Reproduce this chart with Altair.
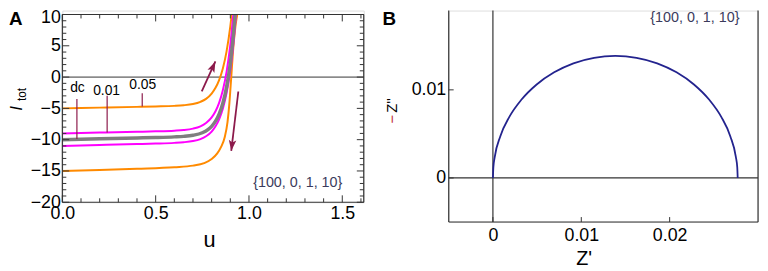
import altair as alt
import pandas as pd

FONT = "Liberation Sans"
ORANGE = "#ff8a00"
MAGENTA = "#ff00ff"
GRAY = "#7f7f7f"
WINE = "#8c1a4b"
NAVY = "#23238e"
INK = "#333333"

# ---------------- Panel A : I_tot vs u ----------------
u_dc = [0.0, 0.2, 0.4, 0.5, 0.6, 0.65, 0.7, 0.75, 0.78, 0.8, 0.82, 0.84, 0.86, 0.88, 0.9, 0.92, 0.9256]
i_dc = [-10.0, -9.86, -9.72, -9.65, -9.55, -9.47, -9.30, -8.90, -8.40, -7.87, -7.09, -5.92, -4.19, -1.60, 2.23, 7.95, 10.0]

u_or_hi = [0.0, 0.2, 0.4, 0.5, 0.6, 0.65, 0.7, 0.74, 0.77, 0.8, 0.82, 0.84, 0.86, 0.88, 0.9, 0.9074]
i_or_hi = [-5.0, -4.88, -4.76, -4.69, -4.60, -4.50, -4.30, -3.95, -3.48, -2.64, -1.76, -0.48, 1.39, 4.12, 8.10, 10.0]

u_mg_hi = [0.0, 0.2, 0.4, 0.5, 0.6, 0.65, 0.7, 0.74, 0.77, 0.8, 0.82, 0.84, 0.86, 0.88, 0.9, 0.9161]
i_mg_hi = [-9.0, -8.87, -8.74, -8.67, -8.56, -8.46, -8.24, -7.87, -7.35, -6.45, -5.50, -4.12, -2.10, 0.84, 5.14, 10.0]

u_mg_lo = [0.0, 0.2, 0.4, 0.5, 0.6, 0.65, 0.7, 0.74, 0.77, 0.8, 0.82, 0.84, 0.86, 0.88, 0.9, 0.92, 0.9306]
i_mg_lo = [-11.0, -10.85, -10.70, -10.62, -10.51, -10.41, -10.22, -9.90, -9.46, -8.70, -7.90, -6.74, -5.04, -2.57, 1.04, 6.30, 10.0]

u_or_lo = [0.0, 0.2, 0.4, 0.6, 0.7, 0.76, 0.8, 0.83, 0.85, 0.87, 0.885, 0.895, 0.905, 0.915, 0.927, 0.937]
i_or_lo = [-15.0, -14.85, -14.65, -14.4, -14.15, -13.75, -13.1, -12.2, -11.2, -9.6, -7.2, -4.2, 0.0, 4.3, 8.0, 10.0]

xa_labels = [0.0, 0.5, 1.0, 1.5]
xa_minor = [0.1, 0.2, 0.3, 0.4, 0.6, 0.7, 0.8, 0.9, 1.1, 1.2, 1.3, 1.4, 1.6]
ya_labels = [-20, -15, -10, -5, 0, 5, 10]
ya_minor = [-19, -18, -17, -16, -14, -13, -12, -11, -9, -8, -7, -6, -4, -3, -2, -1, 1, 2, 3, 4, 6, 7, 8, 9]

lab_text = ["dc", "0.01", "0.05"]
lab_u = [0.081, 0.237, 0.431]
lab_i = [-1.7, -2.2, -1.2]
lead_u = [0.078, 0.240, 0.428]
lead_i0 = [-3.5, -3.0, -2.6]
lead_i1 = [-9.9, -8.85, -4.7]

arr_u0 = [0.747, 0.943]
arr_i0 = [-2.3, -2.3]
arr_u1 = [0.820, 0.905]
arr_i1 = [2.5, -11.8]
arr_ang = [24, 187]

# ---------------- Panel B : Nyquist ----------------
z_re = [0.0, 0.0000527, 0.00021, 0.00084, 0.00186, 0.00324, 0.00495, 0.00693, 0.00911, 0.01145,
        0.01385, 0.01625, 0.01859, 0.02078, 0.02275, 0.02446, 0.02584, 0.02686, 0.02749, 0.02765, 0.0277]
z_im = [0.0, 0.00121, 0.00240, 0.00474, 0.00693, 0.00890, 0.01061, 0.01199, 0.01301, 0.01364,
        0.01385, 0.01364, 0.01301, 0.01199, 0.01061, 0.00890, 0.00693, 0.00474, 0.00240, 0.00121, 0.0]

xb_labels = [0.0, 0.01, 0.02]
yb_labels = [0.0, 0.01]

param_text = "{100, 0, 1, 10}"

# ---------------- scales & axes ----------------
WA, HA = 305, 194
WB, HB = 313, 214
xA = alt.Scale(domain=[0, 1.615], nice=False, zero=False)
yA = alt.Scale(domain=[-20, 10], range=[194, 4], nice=False, zero=False)
xB = alt.Scale(domain=[-0.005, 0.03], nice=False, zero=False)
yB = alt.Scale(domain=[-0.005, 0.019], nice=False, zero=False)

axAx = alt.Axis(values=xa_labels, format=".1f", labelPadding=2, title=None)
axAy = alt.Axis(values=ya_labels, format="d", labelPadding=2, title=None,
                labelOffset={"condition": {"test": "datum.value == 10", "value": 3}, "value": 0})
axBx = alt.Axis(values=xb_labels, format=".2~f", labelPadding=5, title=None)
axBy = alt.Axis(values=yb_labels, format=".2~f", labelPadding=3, title=None)


def XA(f):
    return alt.X(f, scale=xA, axis=axAx)


def YA(f):
    return alt.Y(f, scale=yA, axis=axAy)


def XB(f):
    return alt.X(f, scale=xB, axis=axBx)


def YB(f):
    return alt.Y(f, scale=yB, axis=axBy)


def txt(text, x, y, size, **kw):
    return alt.Chart(pd.DataFrame({"t": [text]})).mark_text(
        font=FONT, fontSize=size, **kw).encode(x=alt.value(x), y=alt.value(y), text="t:N")


def curve(us, vs, color, width):
    df = pd.DataFrame({"u": us, "I": vs, "k": list(range(len(us)))})
    return alt.Chart(df).mark_line(color=color, strokeWidth=width, interpolate="monotone", clip=True).encode(
        x=XA("u:Q"), y=YA("I:Q"), order="k:Q")


# ---- Panel A layers ----
zeroA = alt.Chart(pd.DataFrame({"u0": [0.0], "u1": [1.615], "I": [0.0]})).mark_rule(
    color=INK, strokeWidth=1).encode(x=XA("u0:Q"), x2="u1:Q", y=YA("I:Q"))

frameA = alt.Chart(pd.DataFrame({"a": [0, 0, 0, 1.615], "b": [1.615, 1.615, 0, 1.615],
                                 "c": [10, -20, -20, -20], "d": [10, -20, 10, 10]})).mark_rule(
    color=INK, strokeWidth=1.2).encode(x=XA("a:Q"), x2="b:Q", y=YA("c:Q"), y2="d:Q")


def yticks(vals, length):
    df = pd.DataFrame({"v": vals})
    left = alt.Chart(df).mark_rule(color=INK, strokeWidth=1).encode(
        x=alt.value(0), x2=alt.value(length), y=YA("v:Q"))
    right = alt.Chart(df).mark_rule(color=INK, strokeWidth=1).encode(
        x=alt.value(WA), x2=alt.value(WA - length), y=YA("v:Q"))
    return [left, right]


def xticks(vals, length):
    df = pd.DataFrame({"v": vals})
    bottom = alt.Chart(df).mark_rule(color=INK, strokeWidth=1).encode(
        y=alt.value(HA), y2=alt.value(HA - length), x=XA("v:Q"))
    top = alt.Chart(df).mark_rule(color=INK, strokeWidth=1).encode(
        y=alt.value(4), y2=alt.value(4 + length), x=XA("v:Q"))
    return [bottom, top]


leadA = alt.Chart(pd.DataFrame({"u": lead_u, "i0": lead_i0, "i1": lead_i1})).mark_rule(
    color=WINE, strokeWidth=1.2).encode(x=XA("u:Q"), y=YA("i0:Q"), y2="i1:Q")

labelsA = alt.Chart(pd.DataFrame({"u": lab_u, "I": lab_i, "t": lab_text})).mark_text(
    font=FONT, fontSize=14, color="black").encode(x=XA("u:Q"), y=YA("I:Q"), text="t:N")

arrows_df = pd.DataFrame({"u0": arr_u0, "i0": arr_i0, "u1": arr_u1, "i1": arr_i1, "ang": arr_ang})
shaftA = alt.Chart(arrows_df).mark_rule(color=WINE, strokeWidth=1.8).encode(
    x=XA("u0:Q"), y=YA("i0:Q"), x2="u1:Q", y2="i1:Q")
headA = alt.Chart(arrows_df).mark_point(
    shape="M0,0 L0.55,1.6 L0,1.25 L-0.55,1.6 Z", filled=True, size=190, color=WINE, opacity=1,
    strokeWidth=0).encode(x=XA("u1:Q"), y=YA("i1:Q"), angle=alt.Angle("ang:Q", scale=None))

paramA = alt.Chart(pd.DataFrame({"u": [1.5], "I": [-17.0], "t": [param_text]})).mark_text(
    font=FONT, fontSize=14.5, color="#3b3b5c", align="right").encode(
    x=XA("u:Q"), y=YA("I:Q"), text="t:N")

panelA = alt.layer(
    zeroA,
    curve(u_or_hi, i_or_hi, ORANGE, 2),
    curve(u_or_lo, i_or_lo, ORANGE, 2),
    curve(u_mg_hi, i_mg_hi, MAGENTA, 2),
    curve(u_mg_lo, i_mg_lo, MAGENTA, 2),
    curve(u_dc, i_dc, GRAY, 3.5),
    frameA,
    *yticks(ya_labels, 7), *yticks(ya_minor, 4),
    *xticks(xa_labels, 7), *xticks(xa_minor, 4),
    leadA, labelsA, shaftA, headA, paramA,
    txt("A", -54, 0, 19, fontWeight="bold", align="left", baseline="top"),
    txt("I", -46, 99, 16, fontStyle="italic", angle=270, baseline="middle", align="center"),
    txt("tot", -41, 85, 12, angle=270, baseline="middle", align="center"),
    txt("u", 149, 232, 22, baseline="middle", align="center"),
).properties(width=WA, height=HA)

# ---- Panel B layers ----
axesB = alt.Chart(pd.DataFrame({"a": [-0.005, 0.0], "b": [0.03, 0.0], "c": [0.0, -0.005], "d": [0.0, 0.019]})).mark_rule(
    color=INK, strokeWidth=1.2).encode(x=XB("a:Q"), x2="b:Q", y=YB("c:Q"), y2="d:Q")

frameB = alt.Chart(pd.DataFrame({"a": [-0.005, -0.005, 0.03], "b": [0.03, -0.005, 0.03],
                                 "c": [-0.005, -0.005, -0.005], "d": [-0.005, 0.019, 0.019]})).mark_rule(
    color=INK, strokeWidth=1.2).encode(x=XB("a:Q"), x2="b:Q", y=YB("c:Q"), y2="d:Q")

tickBy = alt.Chart(pd.DataFrame({"v": yb_labels})).mark_rule(color=INK, strokeWidth=1).encode(
    x=alt.value(0), x2=alt.value(5), y=YB("v:Q"))
tickBx = alt.Chart(pd.DataFrame({"v": xb_labels})).mark_rule(color=INK, strokeWidth=1).encode(
    y=alt.value(HB), y2=alt.value(HB - 5), x=XB("v:Q"))

arcB = alt.Chart(pd.DataFrame({"zr": z_re, "zi": z_im, "k": list(range(len(z_re)))})).mark_line(
    color=NAVY, strokeWidth=1.8, interpolate="monotone").encode(
    x=XB("zr:Q"), y=YB("zi:Q"), order="k:Q")

paramB = alt.Chart(pd.DataFrame({"x": [0.0279], "y": [0.01816], "t": [param_text]})).mark_text(
    font=FONT, fontSize=14.5, color="#3b3b5c", align="right").encode(
    x=XB("x:Q"), y=YB("y:Q"), text="t:N")

panelB = alt.layer(
    axesB, frameB, tickBy, tickBx, arcB, paramB,
    txt("B", -67, 0, 19, fontWeight="bold", align="left", baseline="top"),
    txt("Z''", -57.5, 96, 15, angle=270, baseline="middle", align="center"),
    txt("\u2212", -57, 110, 15, angle=270, baseline="middle", align="center", color="#c0282d"),
    txt("Z'", 137, 252, 20, baseline="middle", align="center"),
).properties(width=WB, height=HB)

chart = alt.hconcat(panelA, panelB, spacing=86, bounds="flush").properties(
    padding={"left": 0, "top": -2, "right": 0, "bottom": 0}
).configure_view(stroke=None).configure(font=FONT).configure_axis(
    ticks=False, tickSize=0, domain=False, grid=False, labelFont=FONT, labelFontSize=18,
    labelColor="black", labelFlush=False, labelOverlap=False)

chart.save("out.html", embed_options={"renderer": "svg", "actions": False})
